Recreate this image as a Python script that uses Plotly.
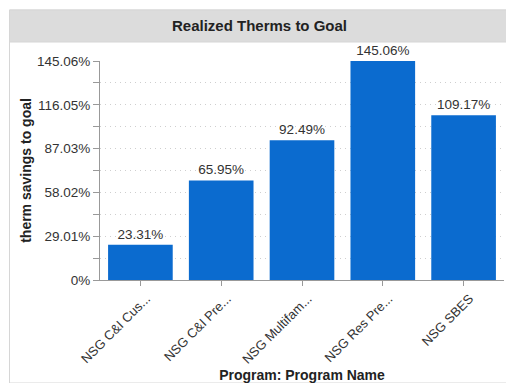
import plotly.graph_objects as go

categories = ["NSG C&I Cus...", "NSG C&I Pre...", "NSG Multifam...", "NSG Res Pre...", "NSG SBES"]
values = [23.31, 65.95, 92.49, 145.06, 109.17]
labels = ["23.31%", "65.95%", "92.49%", "145.06%", "109.17%"]
ytick_vals = [0, 29.01, 58.02, 87.03, 116.05, 145.06]
ytick_text = ["0%", "29.01%", "58.02%", "87.03%", "116.05%", "145.06%"]
yminor_vals = [14.505, 43.515, 72.525, 101.54, 130.555]

W, H = 506, 383
ML, MR, MT, MB = 100, 2, 61, 103
pw = W - ML - MR
ph = H - MT - MB

def px(x):
    return (x - ML) / pw

def py(y):
    return (H - MB - y) / ph

FONT = "Liberation Sans, Arial"
GRID = "#cfcfcf"

fig = go.Figure()
fig.add_trace(go.Bar(
    x=categories, y=values, text=labels, textposition="outside",
    marker=dict(color="#0b6bcf", line=dict(width=0)),
    textfont=dict(family=FONT, size=13.5, color="#333333"),
    cliponaxis=False, width=0.8,
))

fig.update_layout(
    width=W, height=H,
    margin=dict(l=ML, r=MR, t=MT, b=MB),
    paper_bgcolor="white", plot_bgcolor="white",
    font=dict(family=FONT, size=13.5, color="#333333"),
    showlegend=False,
    shapes=[
        dict(type="rect", xref="paper", yref="paper", x0=px(9.5), x1=px(510), y0=py(10), y1=py(383),
             line=dict(color="#d6d6d6", width=1), fillcolor="rgba(0,0,0,0)", layer="below"),
        dict(type="rect", xref="paper", yref="paper", x0=px(9.5), x1=px(510), y0=py(10), y1=py(42),
             line=dict(color="#d6d6d6", width=1), fillcolor="#dcdcdc", layer="below"),
    ],
    annotations=[
        dict(text="<b>Realized Therms to Goal</b>", xref="paper", yref="paper",
             x=px(259), y=py(26), showarrow=False, xanchor="center", yanchor="middle",
             font=dict(size=15, color="#222222")),
    ],
)

fig.update_xaxes(
    tickangle=-45, showline=True, linecolor="#999999", linewidth=1,
    ticks="outside", ticklen=5, tickcolor="#999999",
    tickfont=dict(size=13, color="#333333"),
    ticklabelshift=6,
    title=dict(text="<b>Program: Program Name</b>", font=dict(size=14, color="#222222"), standoff=2),
    fixedrange=True,
)
fig.update_yaxes(
    range=[0, 145.06], tickmode="array", tickvals=ytick_vals, ticktext=ytick_text,
    showline=True, linecolor="#999999", linewidth=1,
    ticks="outside", ticklen=6, tickcolor="#999999",
    showgrid=True, gridcolor=GRID, griddash="1px,4px", gridwidth=1,
    zeroline=False,
    minor=dict(tickvals=yminor_vals, ticks="outside", ticklen=6, tickcolor="#999999",
               showgrid=True, gridcolor=GRID, griddash="1px,4px"),
    tickfont=dict(size=13.5, color="#333333"),
    title=dict(text="<b>therm savings to goal</b>", font=dict(size=14, color="#222222"), standoff=2),
)

fig.write_html("out.html")
